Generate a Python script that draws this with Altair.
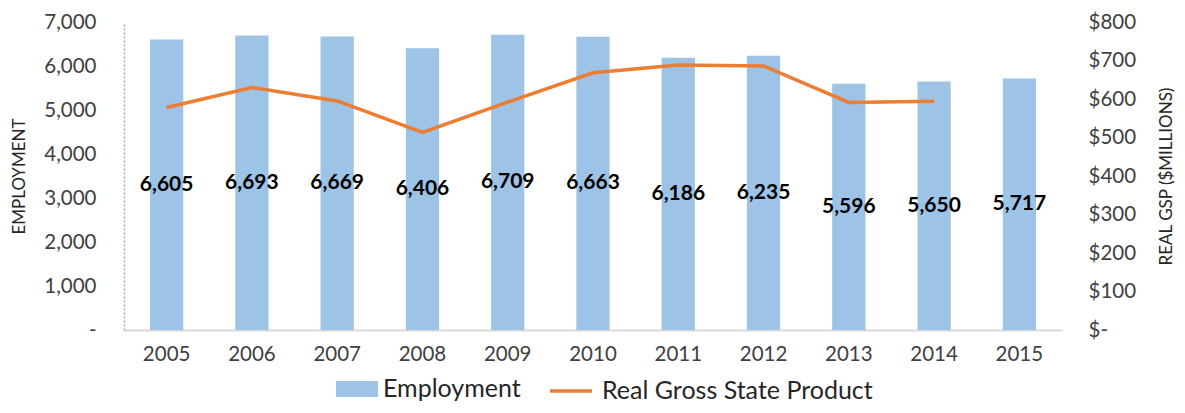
import altair as alt
import pandas as pd

years = ["2005", "2006", "2007", "2008", "2009", "2010", "2011", "2012", "2013", "2014", "2015"]
employment = [6605, 6693, 6669, 6406, 6709, 6663, 6186, 6235, 5596, 5650, 5717]
gsp = [578, 630, 595, 513, 592, 668, 688, 686, 591, 594, None]

emp_name = "Employment"
gsp_name = "Real Gross State Product"

df = pd.DataFrame({
    "year": years,
    "employment": employment,
    "gsp": gsp,
    "emp_series": emp_name,
    "gsp_series": gsp_name,
})

FONT = "Lato"
BAR = "#9DC3E6"
LINE = "#ED7D31"
W, H = 938, 308
TICK_FS = 20.5
TITLE_FS = 17
LEG_FS = 25

x_enc = alt.X(
    "year:N",
    title=None,
    scale=alt.Scale(paddingInner=0.61, paddingOuter=0.305),
    axis=alt.Axis(labelAngle=0, labelFontSize=TICK_FS, labelColor="#404040", labelPadding=14,
                  domainColor="#d9d9d9", domainWidth=2, ticks=False, labelFont=FONT),
)

left_axis = alt.Axis(
    values=[0, 1000, 2000, 3000, 4000, 5000, 6000, 7000],
    labelExpr="datum.value == 0 ? '-\u00a0\u00a0\u00a0' : format(datum.value, ',')",
    labelFontSize=TICK_FS, labelColor="#404040", labelPadding=28, labelFont=FONT,
    grid=False, ticks=False,
    domainDash=[2, 2], domainColor="#a6a6a6", domainWidth=1.5,
    title="EMPLOYMENT", titleFontSize=TITLE_FS, titleFontWeight="normal", titleColor="#262626",
    titleFont=FONT, titleX=-105, titleY=H / 2, titleAngle=270, titleAlign="center",
    titleBaseline="middle",
)

right_axis = alt.Axis(
    orient="right",
    values=[0, 100, 200, 300, 400, 500, 600, 700, 800],
    labelExpr="datum.value == 0 ? '$-' : '$' + format(datum.value, ',')",
    labelFontSize=TICK_FS, labelColor="#404040", labelPadding=26, labelFont=FONT,
    grid=False, ticks=False, domain=False,
    title="REAL GSP ($MILLIONS)", titleFontSize=TITLE_FS, titleFontWeight="normal",
    titleColor="#262626", titleFont=FONT, titleX=104, titleY=H / 2, titleAngle=270,
    titleAlign="center", titleBaseline="middle",
)

y_scale = alt.Scale(domain=[0, 7000], nice=False)

bars = alt.Chart(df).mark_bar().encode(
    x=x_enc,
    y=alt.Y("employment:Q", scale=y_scale, axis=left_axis),
    color=alt.Color(
        "emp_series:N",
        scale=alt.Scale(domain=[emp_name], range=[BAR]),
        legend=alt.Legend(
            title=None, orient="none", legendX=212, legendY=346, padding=0,
            symbolType="M-1,-0.38H1V0.38H-1Z", symbolSize=1764, symbolStrokeWidth=0,
            symbolOpacity=1, labelFontSize=LEG_FS, labelColor="#262626", labelFont=FONT,
            labelOffset=5, labelLimit=400,
        ),
    ),
)

labels = alt.Chart(df).transform_calculate(half="datum.employment / 2").mark_text(
    fontWeight="bold", fontSize=21, color="#000000", font=FONT
).encode(
    x=x_enc,
    y=alt.Y("half:Q", scale=y_scale, axis=left_axis),
    text=alt.Text("employment:Q", format=","),
)

line = alt.Chart(df).mark_line(strokeWidth=3.5).encode(
    x=x_enc,
    y=alt.Y("gsp:Q", scale=alt.Scale(domain=[0, 800], nice=False), axis=right_axis),
    stroke=alt.Stroke(
        "gsp_series:N",
        scale=alt.Scale(domain=[gsp_name], range=[LINE]),
        legend=alt.Legend(
            title=None, orient="none", legendX=424, legendY=346, padding=0,
            symbolType="M-1,0H1", symbolSize=1764, symbolStrokeWidth=3.5,
            labelFontSize=LEG_FS, labelColor="#262626", labelFont=FONT, labelOffset=8,
            labelLimit=400,
        ),
    ),
)

chart = alt.layer(alt.layer(bars, labels), line).resolve_scale(
    y="independent"
).properties(
    width=W, height=H,
    autosize=alt.AutoSizeParams(type="none"),
    padding={"left": 116, "top": 14, "right": 115, "bottom": 75},
).configure_view(stroke=None)

chart.save("out.html", embed_options={"renderer": "svg", "actions": False})
